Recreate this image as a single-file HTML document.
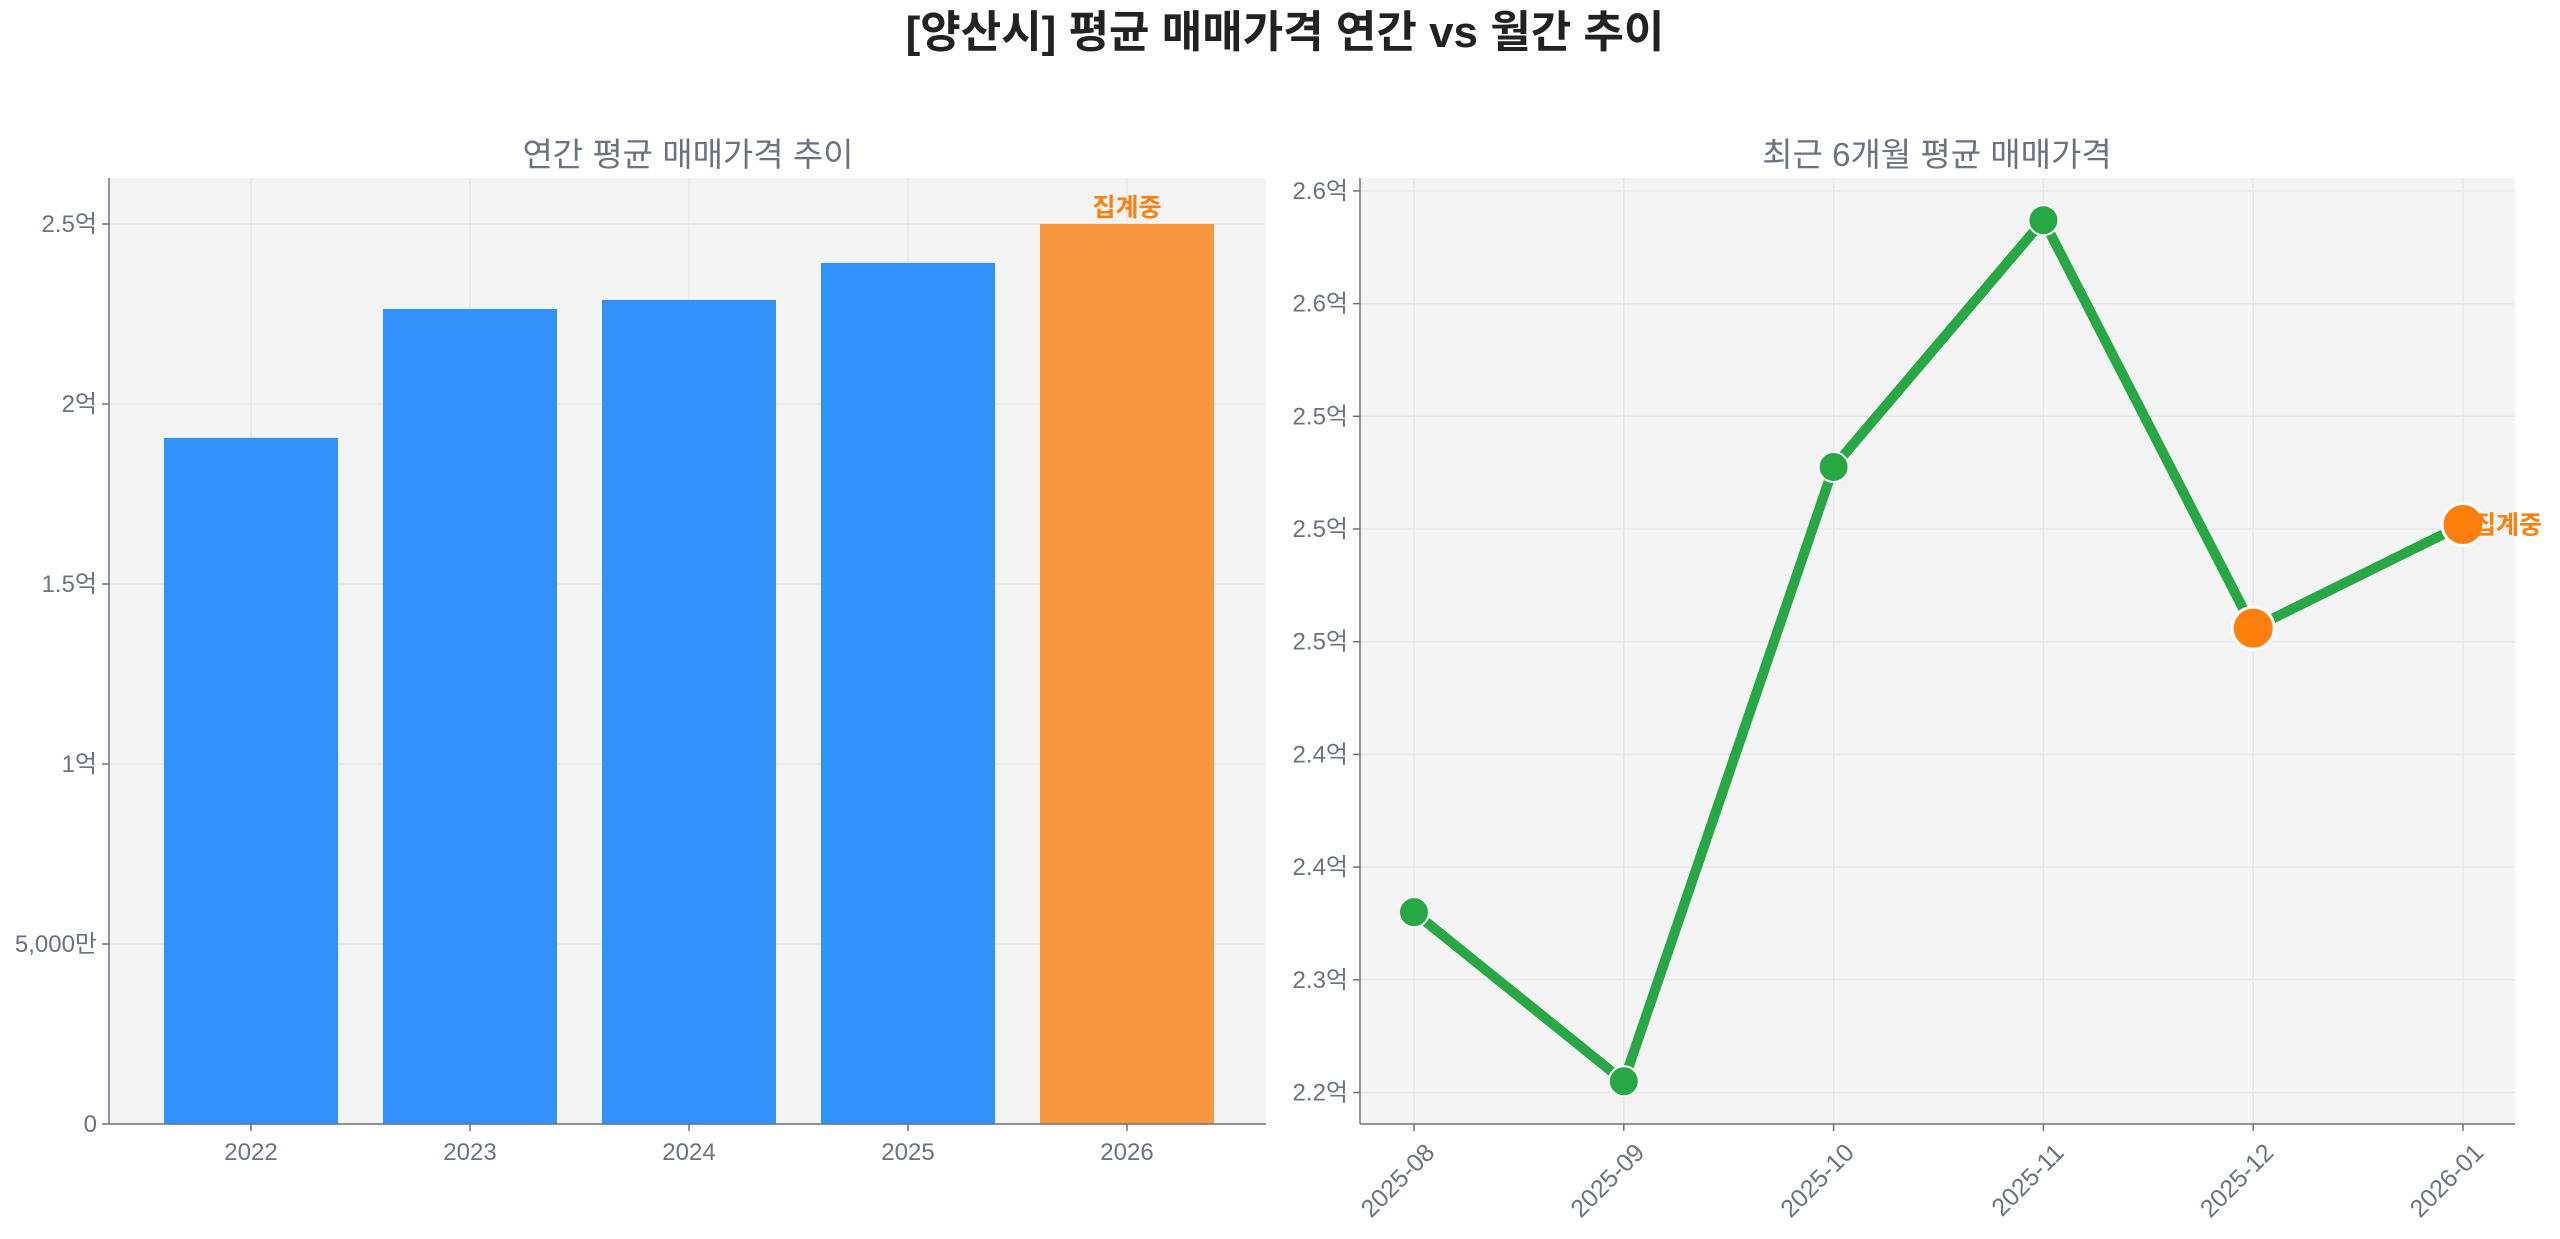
<!DOCTYPE html>
<html><head><meta charset="utf-8"><style>
html,body{margin:0;padding:0;background:#fff;}
svg text{font-family:"Liberation Sans","Noto Sans CJK KR",sans-serif;}
</style></head><body>
<svg id="fig" width="2560" height="1234" viewBox="0 0 2560 1234" xmlns="http://www.w3.org/2000/svg">
<text x="1285" y="47" text-anchor="middle" font-size="44" font-weight="bold" fill="#222">[양산시] 평균 매매가격 연간 vs 월간 추이</text>
<g id="left"></g>
<g id="right"></g>
</svg>
<script>
const years = ['2022','2023','2024','2025','2026'];
const yearValues = [1.906, 2.264, 2.289, 2.392, 2.50];
const yearTicks = [0, 0.5, 1, 1.5, 2, 2.5];
const yearTickLabels = ['0','5,000만','1억','1.5억','2억','2.5억'];
const months = ['2025-08','2025-09','2025-10','2025-11','2025-12','2026-01'];
const monthValues = [2.330, 2.255, 2.5275, 2.637, 2.456, 2.502];
const monthTicks = [2.25, 2.30, 2.35, 2.40, 2.45, 2.50, 2.55, 2.60, 2.65];
const monthTickLabels = ['2.2억','2.3억','2.4억','2.4억','2.5억','2.5억','2.5억','2.6억','2.6억'];

const NS='http://www.w3.org/2000/svg';
function mk(parent,tag,attrs,text){const e=document.createElementNS(NS,tag);for(const k in attrs)e.setAttribute(k,attrs[k]);if(text!==undefined)e.textContent=text;parent.appendChild(e);return e;}
const GRAY='#6b7280';

// LEFT
(function(){
  const g=document.getElementById('left');
  const L=109,R=1266,T=178,B=1124;
  const x=i=>251+i*219;
  const y=v=>B-v/2.5*900;
  let bg=mk(g,'rect',{x:L,y:T,width:R-L,height:B-T,fill:'#f4f4f4'});
  
  
  yearTicks.forEach((t,i)=>{
    let gl=mk(g,'line',{x1:L,x2:R,y1:y(t),y2:y(t),stroke:'#e6e6e6','stroke-width':1.5});
    
    
    mk(g,'line',{x1:L-7,x2:L,y1:y(t),y2:y(t),stroke:GRAY,'stroke-width':1.5});
    let tl=mk(g,'text',{x:L-12,y:y(t)+8,'text-anchor':'end','font-size':24,fill:GRAY},yearTickLabels[i]);
    
    
  });
  years.forEach((yr,i)=>{
    mk(g,'line',{x1:x(i),x2:x(i),y1:T,y2:B,stroke:'#e6e6e6','stroke-width':1.5});
  });
  years.forEach((yr,i)=>{
    const last=i===years.length-1;
    let b=mk(g,'rect',{x:x(i)-87,y:y(yearValues[i]),width:174,height:B-y(yearValues[i]),fill:last?'#f99640':'#3092fa'});
    
    
    mk(g,'line',{x1:x(i),x2:x(i),y1:B,y2:B+7,stroke:GRAY,'stroke-width':1.5});
    let xl=mk(g,'text',{x:x(i),y:B+36,'text-anchor':'middle','font-size':24,fill:GRAY},yr);
    
    
    if(last){
      let a=mk(g,'text',{x:x(i),y:y(yearValues[i])-8,'text-anchor':'middle','font-size':25,'font-weight':'bold',fill:'#ff7f0e'},'집계중');
      
      
    }
  });
  mk(g,'line',{x1:L,x2:L,y1:T,y2:B,stroke:GRAY,'stroke-width':1.5});
  mk(g,'line',{x1:L,x2:R,y1:B,y2:B,stroke:GRAY,'stroke-width':1.5});
  let st=mk(g,'text',{x:688,y:166,'text-anchor':'middle','font-size':33,fill:GRAY},'연간 평균 매매가격 추이');
  
  
})();

// RIGHT
(function(){
  const g=document.getElementById('right');
  const L=1360,R=2515,T=178,B=1124;
  const x=i=>1414+i*209.8;
  const y=v=>1092.5-(v-2.25)/0.05*112.7;
  let bg=mk(g,'rect',{x:L,y:T,width:R-L,height:B-T,fill:'#f4f4f4'});
  
  
  monthTicks.forEach((t,i)=>{
    let gl=mk(g,'line',{x1:L,x2:R,y1:y(t),y2:y(t),stroke:'#e6e6e6','stroke-width':1.5});
    
    
    mk(g,'line',{x1:L-7,x2:L,y1:y(t),y2:y(t),stroke:GRAY,'stroke-width':1.5});
    let tl=mk(g,'text',{x:L-12,y:y(t)+8,'text-anchor':'end','font-size':24,fill:GRAY},monthTickLabels[i]);
    
    
  });
  months.forEach((m,i)=>{
    mk(g,'line',{x1:x(i),x2:x(i),y1:T,y2:B,stroke:'#e6e6e6','stroke-width':1.5});
    mk(g,'line',{x1:x(i),x2:x(i),y1:B,y2:B+7,stroke:GRAY,'stroke-width':1.5});
    const ax=x(i)+22, ay=B+30;
    let xl=mk(g,'text',{x:ax,y:ay,'text-anchor':'end','font-size':25,fill:GRAY,transform:`rotate(-45 ${ax} ${ay})`},m);
    
    
  });
  const pts=monthValues.map((v,i)=>x(i)+','+y(v)).join(' ');
  let ln=mk(g,'polyline',{points:pts,fill:'none',stroke:'#28a745','stroke-width':10,'stroke-linejoin':'round'});
  
  
  monthValues.forEach((v,i)=>{
    const orange=i>=4;
    let c=mk(g,'circle',{cx:x(i),cy:y(v),r:orange?21:15,fill:orange?'#ff7f0e':'#28a745',stroke:'#fff','stroke-width':orange?3:2});
    
    
  });
  const li=monthValues.length-1;
  let a=mk(g,'text',{x:x(li)+10,y:y(monthValues[li])+9,'text-anchor':'start','font-size':25,'font-weight':'bold',fill:'#ff7f0e'},'집계중');
  
  
  mk(g,'line',{x1:L,x2:L,y1:T,y2:B,stroke:GRAY,'stroke-width':1.5});
  mk(g,'line',{x1:L,x2:R,y1:B,y2:B,stroke:GRAY,'stroke-width':1.5});
  let st=mk(g,'text',{x:1937,y:166,'text-anchor':'middle','font-size':33,fill:GRAY},'최근 6개월 평균 매매가격');
  
  
})();
</script>
</body></html>
